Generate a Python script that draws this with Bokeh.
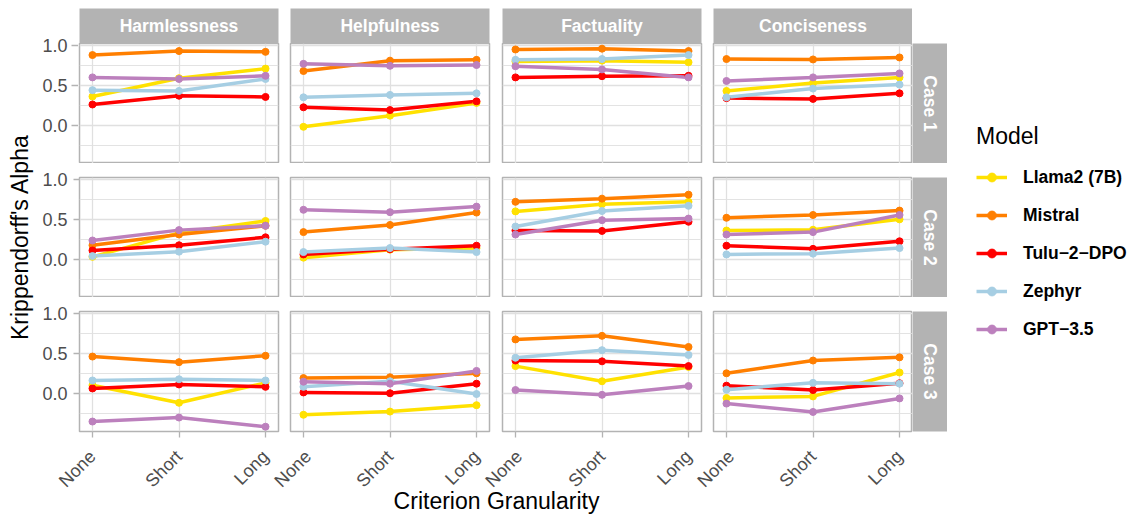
import math
import numpy as np
from bokeh.plotting import figure
from bokeh.layouts import row, column
from bokeh.models import (Range1d, FixedTicker, Label, Legend, LegendItem,
                          NumeralTickFormatter, Spacer)
from bokeh.embed import file_html
from bokeh.resources import INLINE

FONT = "Liberation Sans"

# ---------------- data ----------------
criteria = ["Harmlessness", "Helpfulness", "Factuality", "Conciseness"]
cases = ["Case 1", "Case 2", "Case 3"]
granularity = ["None", "Short", "Long"]
models = ["Llama2 (7B)", "Mistral", "Tulu\u22122\u2212DPO", "Zephyr", "GPT\u22123.5"]
colors = ["#FFE100", "#FF7F00", "#FF0000", "#A6CEE3", "#BC80BD"]

# values[case][criterion] = [None, Short, Long]
llama2 = [
    [[0.36, 0.59, 0.71], [-0.02, 0.12, 0.28], [0.80, 0.81, 0.79], [0.43, 0.53, 0.60]],
    [[0.03, 0.33, 0.48], [0.02, 0.12, 0.14], [0.60, 0.69, 0.72], [0.36, 0.37, 0.50]],
    [[0.10, -0.12, 0.13], [-0.27, -0.23, -0.15], [0.34, 0.15, 0.33], [-0.06, -0.04, 0.26]],
]
mistral = [
    [[0.88, 0.93, 0.92], [0.68, 0.81, 0.82], [0.95, 0.96, 0.93], [0.83, 0.825, 0.85]],
    [[0.175, 0.31, 0.42], [0.34, 0.43, 0.585], [0.72, 0.76, 0.81], [0.52, 0.555, 0.61]],
    [[0.46, 0.39, 0.47], [0.19, 0.20, 0.25], [0.675, 0.72, 0.58], [0.25, 0.41, 0.45]],
]
tulu = [
    [[0.26, 0.37, 0.355], [0.225, 0.19, 0.30], [0.60, 0.615, 0.62], [0.34, 0.33, 0.40]],
    [[0.11, 0.175, 0.275], [0.06, 0.125, 0.17], [0.36, 0.355, 0.47], [0.17, 0.13, 0.225]],
    [[0.06, 0.11, 0.08], [0.01, 0.0, 0.12], [0.41, 0.40, 0.34], [0.095, 0.04, 0.125]],
]
zephyr = [
    [[0.44, 0.43, 0.58], [0.35, 0.38, 0.40], [0.82, 0.83, 0.88], [0.35, 0.46, 0.51]],
    [[0.04, 0.095, 0.22], [0.09, 0.14, 0.09], [0.41, 0.605, 0.67], [0.06, 0.07, 0.14]],
    [[0.16, 0.175, 0.16], [0.08, 0.15, -0.01], [0.445, 0.54, 0.48], [0.045, 0.13, 0.12]],
]
gpt35 = [
    [[0.60, 0.58, 0.62], [0.77, 0.745, 0.755], [0.74, 0.70, 0.60], [0.555, 0.60, 0.65]],
    [[0.235, 0.365, 0.42], [0.62, 0.59, 0.66], [0.31, 0.49, 0.51], [0.31, 0.34, 0.555]],
    [[-0.355, -0.305, -0.42], [0.145, 0.12, 0.28], [0.04, -0.02, 0.09], [-0.13, -0.235, -0.065]],
]
series = [llama2, mistral, tulu, zephyr, gpt35]

y_ticks = [0.0, 0.5, 1.0]
y_minor = [-0.25, 0.25, 0.75]

# ---------------- geometry ----------------
TOTAL_H = 515
TOP_PAD = 8
FRAME_W, FRAME_H, STRIP = 199, 120, 35
col_borders = [(41, 6), (6, 6), (7, 6), (6, 0)]
AX_W = 40
ROW_GAP = 14
TOPX = 10
XAX_H = 72
EXTRA = 14
XT_H = 32
xs = list(range(1, len(granularity) + 1))
XR = (0.85, 3.15)
YR = (-0.48, 1.025)
GRID = "#E0E0E0"
BORDER = "#B3B3B3"
TICKLAB = "#4D4D4D"


def base_fig(w, h, bl, br, bt, bb, xr=(0, 1), yr=(0, 1), xloc=None, yloc=None):
    p = figure(width=w, height=h, x_range=Range1d(*xr), y_range=Range1d(*yr),
               x_axis_location=xloc, y_axis_location=yloc,
               min_border_left=bl, min_border_right=br,
               min_border_top=bt, min_border_bottom=bb,
               output_backend="svg", toolbar_location=None)
    p.border_fill_color = None
    return p


def plain(p):
    p.outline_line_color = None
    p.xgrid.grid_line_color = None
    p.ygrid.grid_line_color = None
    return p


def style_axis(ax):
    ax.axis_line_color = None
    ax.major_tick_out = 6
    ax.major_tick_in = 0
    ax.major_tick_line_color = BORDER
    ax.major_tick_line_width = 1.3
    ax.minor_tick_line_color = None
    ax.major_label_text_font = FONT
    ax.major_label_text_font_size = "18px"
    ax.major_label_text_color = TICKLAB


def left_border(ri, ci):
    bl, br = col_borders[ci]
    if ri == 0 and ci == 0:
        bl = 1
    return bl, br


def panel(ri, ci):
    bl, br = left_border(ri, ci)
    last = ri == len(cases) - 1
    extra = EXTRA if (last and ci > 0) else 0
    bb = XAX_H if last else 0
    bt = 0 if ri == 0 else TOPX
    p = base_fig(bl + extra + FRAME_W + br, bt + FRAME_H + bb, bl + extra, br, bt, bb,
                 XR, YR, "below" if last else None,
                 "left" if (ci == 0 and ri > 0) else None)
    if extra:
        p.margin = (0, 0, 0, -extra)
    p.background_fill_color = "white"
    p.outline_line_color = BORDER
    p.outline_line_width = 1.5
    xg = p.xgrid[0]
    yg = p.ygrid[0]
    xg.axis.ticker = FixedTicker(ticks=xs)
    yg.axis.ticker = FixedTicker(ticks=y_ticks, minor_ticks=y_minor)
    xg.grid_line_color = GRID
    xg.grid_line_width = 1.3
    yg.grid_line_color = GRID
    yg.grid_line_width = 1.3
    yg.minor_grid_line_color = GRID
    yg.minor_grid_line_width = 0.9
    for ax in p.axis:
        style_axis(ax)
    if ci == 0 and ri > 0:
        p.yaxis[0].formatter = NumeralTickFormatter(format="0.0")
        p.yaxis[0].major_label_standoff = 6
    if last:
        p.xaxis[0].major_label_overrides = {x: g for x, g in zip(xs, granularity)}
        p.xaxis[0].major_label_orientation = math.pi / 4
        p.xaxis[0].major_label_standoff = 16
    for m, col in zip(series, colors):
        p.line(xs, m[ri][ci], line_color=col, line_width=3.5)
    for m, col in zip(series, colors):
        p.scatter(xs, m[ri][ci], size=7, fill_color=col, line_color=col)
    return p


def strip_top(ci):
    bl, br = left_border(0, ci)
    p = plain(base_fig(bl + FRAME_W + br, STRIP, bl, br, 0, 0))
    p.background_fill_color = BORDER
    p.add_layout(Label(x=0.5, y=0.5, text=criteria[ci], text_align="center",
                       text_baseline="middle", text_color="white", text_font=FONT,
                       text_font_style="bold", text_font_size="17.5px"))
    return p


def strip_right(ri):
    last = ri == len(cases) - 1
    bb = XAX_H if last else 0
    bt = 0 if ri == 0 else TOPX
    p = plain(base_fig(STRIP, bt + FRAME_H + bb, 0, 0, bt, bb))
    p.background_fill_color = BORDER
    p.add_layout(Label(x=0.5, y=0.5, text=cases[ri], text_align="center", angle=-math.pi / 2,
                       text_baseline="middle", text_color="white", text_font=FONT,
                       text_font_style="bold", text_font_size="17.5px"))
    return p


# y axis for the first row, in its own narrow figure (room above for the "1.0" label)
ax1 = plain(base_fig(AX_W, STRIP + FRAME_H, AX_W - 1, 0, STRIP, 0, XR, YR, None, "left"))
ax1.background_fill_color = None
ax1.ygrid[0].axis.ticker = FixedTicker(ticks=y_ticks)
style_axis(ax1.yaxis[0])
ax1.yaxis[0].formatter = NumeralTickFormatter(format="0.0")
ax1.yaxis[0].major_tick_in = 1
ax1.yaxis[0].major_label_standoff = 4

MAIN_W = sum(a + FRAME_W + b for a, b in col_borders) + STRIP

upper = row(ax1, column(
    row(*[strip_top(ci) for ci in range(len(criteria))], Spacer(width=STRIP, height=STRIP)),
    row(*[panel(0, ci) for ci in range(len(criteria))], strip_right(0)),
))
rows = [Spacer(width=MAIN_W, height=TOP_PAD), upper]
for ri in range(1, len(cases)):
    rows.append(Spacer(width=MAIN_W, height=ROW_GAP - TOPX))
    rows.append(row(*[panel(ri, ci) for ci in range(len(criteria))], strip_right(ri)))

used = TOP_PAD + STRIP + len(cases) * FRAME_H + (len(cases) - 1) * ROW_GAP + XAX_H
xt = plain(base_fig(MAIN_W, XT_H, 0, 0, 0, 0))
xt.margin = (TOTAL_H - used - XT_H, 0, 0, 0)
xt.background_fill_color = None
xt.add_layout(Label(x=458, y=15, x_units="screen", y_units="screen", text="Criterion Granularity",
                    text_align="center", text_baseline="alphabetic", text_font=FONT,
                    text_font_size="23px", text_color="black"))
rows.append(xt)
main = column(*rows)

yt = plain(base_fig(38, TOTAL_H, 0, 0, 0, 0))
yt.background_fill_color = None
yt.add_layout(Label(x=19, y=278.5, x_units="screen", y_units="screen", angle=math.pi / 2,
                    text="Krippendorff's Alpha", text_align="center", text_baseline="middle",
                    text_font=FONT, text_font_size="23px", text_color="black"))

lf = plain(base_fig(184, TOTAL_H, 29, 0, 123, 0))
lf.background_fill_color = None
items = []
nan = np.array([np.nan])
for name, col in zip(models, colors):
    rl = lf.line(x=nan, y=nan, line_color=col, line_width=3.5)
    rp = lf.scatter(x=nan, y=nan, size=7, fill_color=col, line_color=col)
    items.append(LegendItem(label=name, renderers=[rl, rp]))
leg = Legend(items=items, location="top_left", title="Model",
             title_text_font=FONT, title_text_font_size="23px", title_text_font_style="normal",
             title_text_color="black", title_standoff=16,
             label_text_font=FONT, label_text_font_size="17.5px", label_text_font_style="bold",
             label_text_color="black", glyph_width=31, glyph_height=22, label_height=22,
             label_standoff=16, spacing=16, padding=0, margin=0,
             border_line_color=None, background_fill_alpha=0)
lf.add_layout(leg)

layout = row(yt, main, lf)

open("out.html", "w").write(file_html(layout, INLINE))
